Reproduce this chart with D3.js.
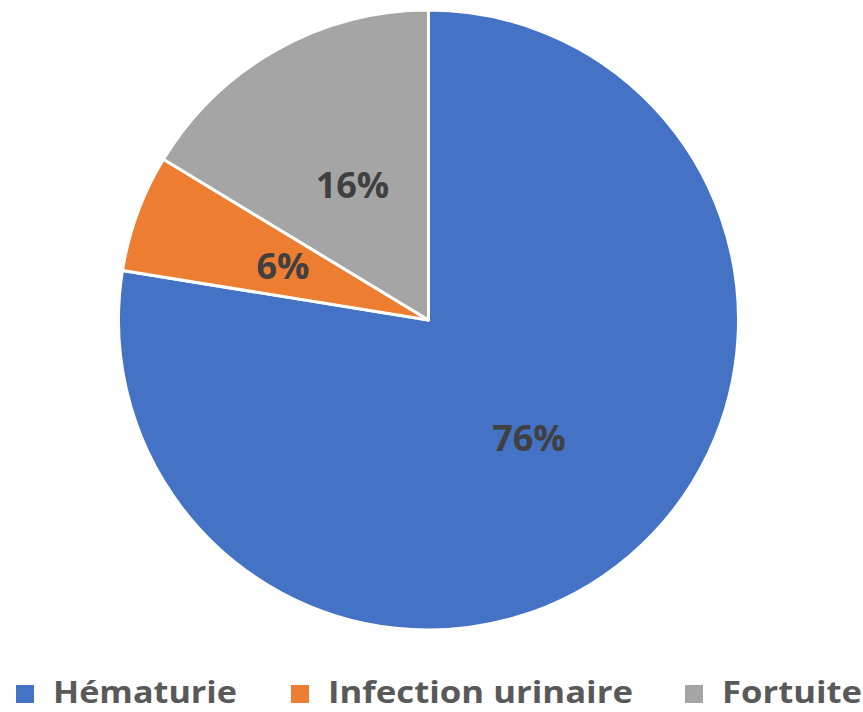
<!DOCTYPE html>
<html>
<head>
<meta charset="utf-8">
<script src="https://cdn.jsdelivr.net/npm/d3@7"></script>
<style>
html,body{margin:0;padding:0;background:#fff;}
svg{display:block;}
</style>
</head>
<body>
<svg id="chart" width="863" height="712"></svg>
<script>
const categories = ["Hématurie", "Infection urinaire", "Fortuite"];
const values = [76, 6, 16];
const labels = ["76%", "6%", "16%"];
const colors = ["#4472C4", "#ED7D31", "#A5A5A5"];

const svg = d3.select("#chart");
const cx = 428.5, cy = 320, r = 310;

const pie = d3.pie().sort(null).value(d => d.value);
const data = categories.map((c, i) => ({cat: c, value: values[i], label: labels[i], color: colors[i]}));
const arcs = pie(data);
const arc = d3.arc().innerRadius(0).outerRadius(r);

const g = svg.append("g").attr("transform", `translate(${cx},${cy})`);
g.selectAll("path").data(arcs).join("path")
  .attr("d", arc)
  .attr("fill", d => d.data.color)
  .attr("stroke", "#fff")
  .attr("stroke-width", 3)
  .attr("stroke-linejoin", "round");

g.selectAll("text.lbl").data(arcs).join("text")
  .attr("class", "lbl")
  .attr("transform", d => `translate(${arc.centroid(d)})`)
  .attr("text-anchor", "middle")
  .attr("dy", "0.36em")
  .attr("font-family", "'Open Sans', sans-serif")
  .attr("font-weight", "bold")
  .attr("font-size", 36)
  .attr("fill", "#404040")
  .text(d => d.data.label);

// legend
const legX = [16, 291, 685];
const legW = [184, 305, 140];
const leg = svg.append("g");
data.forEach((d, i) => {
  leg.append("rect")
    .attr("x", legX[i]).attr("y", 685)
    .attr("width", 18).attr("height", 18)
    .attr("fill", d.color);
  leg.append("text")
    .attr("x", legX[i] + 37).attr("y", 703)
    .attr("font-family", "'Open Sans', sans-serif")
    .attr("font-weight", "bold")
    .attr("font-size", 31)
    .attr("fill", "#595959")
    .attr("textLength", legW[i])
    .attr("lengthAdjust", "spacingAndGlyphs")
    .text(d.cat);
});
</script>
</body>
</html>
